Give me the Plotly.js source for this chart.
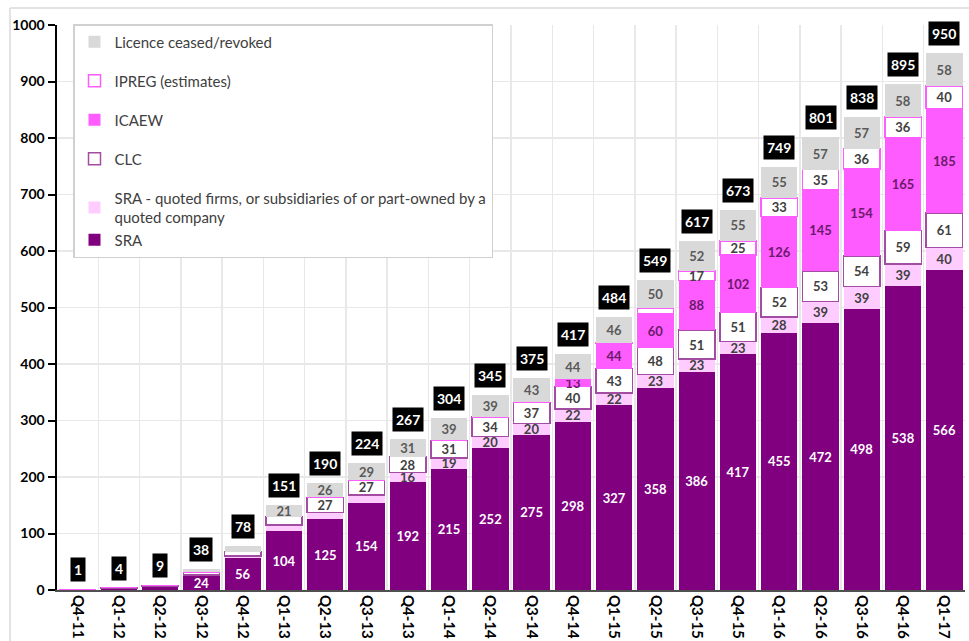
<!DOCTYPE html>
<html>
<head>
<meta charset="utf-8">
<script src="https://cdn.plot.ly/plotly-3.0.1.min.js"></script>
<style>html,body{margin:0;padding:0;background:#fff;}#chart{width:969px;height:641px;}</style>
</head>
<body>
<div id="chart"></div>
<script>
const categories = ['Q4-11','Q1-12','Q2-12','Q3-12','Q4-12','Q1-13','Q2-13','Q3-13','Q4-13','Q1-14','Q2-14','Q3-14','Q4-14','Q1-15','Q2-15','Q3-15','Q4-15','Q1-16','Q2-16','Q3-16','Q4-16','Q1-17'];
const sra    = [1,3,6,24,56,104,125,154,192,215,252,275,298,327,358,386,417,455,472,498,538,566];
const quoted = [0,0,1,3,4,11,12,14,16,19,20,20,22,22,23,23,23,28,39,39,39,40];
const clc    = [0,1,1,4,8,15,27,27,28,31,34,37,40,43,48,51,51,52,53,54,59,61];
const icaew  = [0,0,0,0,0,0,0,0,0,0,0,0,13,44,60,88,102,126,145,154,165,185];
const ipreg  = [0,0,0,0,0,0,0,0,0,0,0,0,0,2,10,17,25,33,35,36,36,40];
const ceased = [0,0,1,7,10,21,26,29,31,39,39,43,44,46,50,52,55,55,57,57,58,58];
// first quarter (index) from which a segment's value label is printed
const labelFrom = {sra:3, quoted:8, clc:6, icaew:12, ipreg:15, ceased:5};

const FONT = 'Lato, "Liberation Sans", sans-serif';
function labels(vals, start){ return vals.map((v,i)=> i>=start && v>0 ? '<b>'+v+'</b>' : ''); }

function mk(name, vals, start, fill, lineColor, lineW, txtColor, rank, group){
  return {
    type:'bar', name:name, x:categories, y:vals,
    marker:{color:fill, line:{color:lineColor, width:lineW}},
    text:labels(vals,start), textposition:'inside', insidetextanchor:'middle',
    textangle:0, constraintext:'none',
    textfont:{family:FONT, size:13, color:txtColor},
    hoverinfo:'skip', legendgroup:group, legendrank:rank
  };
}

const traces = [
  mk('SRA', sra, labelFrom.sra, '#800080', '#800080', 0, '#ffffff', 6, 'g5'),
  mk('SRA - quoted firms, or subsidiaries of or part-owned by a<br>quoted company', quoted, labelFrom.quoted, '#ffccff', '#ffccff', 0, '#404040', 5, 'g5'),
  mk('CLC', clc, labelFrom.clc, '#ffffff', '#a24ca2', 1.5, '#404040', 4, 'g4'),
  mk('ICAEW', icaew, labelFrom.icaew, '#ff5cff', '#ff5cff', 0, '#6b1a6b', 3, 'g3'),
  mk('IPREG (estimates)', ipreg, labelFrom.ipreg, '#ffffff', '#ff5cff', 1.5, '#404040', 2, 'g2'),
  mk('Licence ceased/revoked', ceased, labelFrom.ceased, '#d9d9d9', '#d9d9d9', 0, '#595959', 1, 'g1')
];

const totals = categories.map((c,i)=> sra[i]+quoted[i]+clc[i]+icaew[i]+ipreg[i]+ceased[i]);
const annotations = categories.map((c,i)=>({
  x:c, y:totals[i], xref:'x', yref:'y', yanchor:'bottom', yshift:7,
  text:'<b>'+totals[i]+'</b>', showarrow:false,
  bgcolor:'#000000', borderpad:3,
  font:{family:FONT, size:14, color:'#ffffff'}
}));

const W=908, H=565, L=57, T=25;
const px = v => (v-L)/W, py = v => (T+H-v)/H;

const layout = {
  width:969, height:641,
  margin:{l:57, r:4, t:25, b:51},
  paper_bgcolor:'#ffffff', plot_bgcolor:'#ffffff',
  barmode:'stack', bargap:0.12,
  uniformtext:{mode:'show', minsize:13},
  font:{family:FONT, color:'#000'},
  showlegend:true,
  legend:{
    x:px(73), y:py(24), xanchor:'left', yanchor:'top',
    traceorder:'grouped', tracegroupgap:16.5,
    bgcolor:'#ffffff', bordercolor:'#d0d0d0', borderwidth:1.5,
    font:{family:FONT, size:15, color:'#404040'},
    itemwidth:30
  },
  xaxis:{
    type:'category', tickangle:90, tickson:'boundaries', ticks:'',
    showgrid:true, gridcolor:'#e8e8e8', gridwidth:1.5,
    showline:true, linecolor:'#505050', linewidth:2,
    tickfont:{family:FONT, size:15, color:'#000', weight:'bold'}
  },
  yaxis:{
    range:[0,1000], dtick:100, showgrid:true, gridcolor:'#e8e8e8', gridwidth:1.5,
    showline:true, linecolor:'#000', linewidth:2.5, zeroline:false,
    ticks:'outside', ticklen:7, tickwidth:2, tickcolor:'#000',
    tickfont:{family:FONT, size:14, color:'#000', weight:'bold'}
  },
  annotations:annotations,
  shapes:[
    {type:'line', xref:'paper', yref:'paper', x0:px(10), x1:px(969), y0:py(8), y1:py(8), line:{color:'#e3e3e3', width:2}},
    {type:'line', xref:'paper', yref:'paper', x0:px(10), x1:px(10), y0:py(8), y1:py(641), line:{color:'#e3e3e3', width:2}}
  ]
};

Plotly.newPlot('chart', traces, layout, {displayModeBar:false, staticPlot:true});
</script>
</body>
</html>
